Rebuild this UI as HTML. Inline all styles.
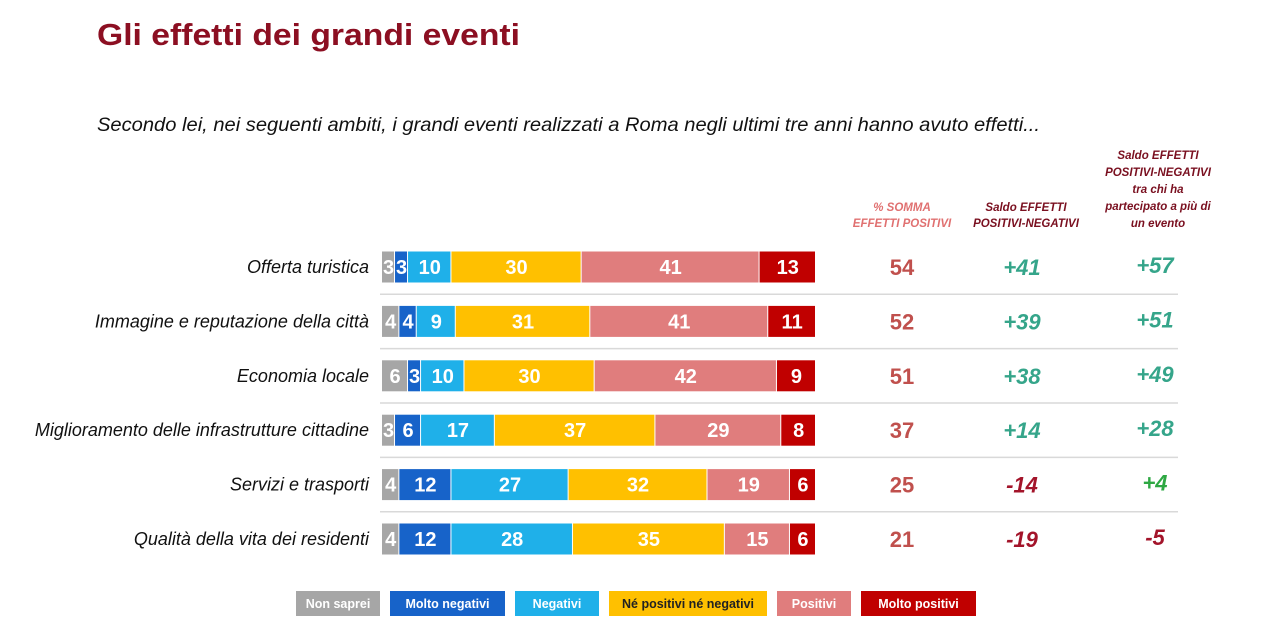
<!DOCTYPE html>
<html><head><meta charset="utf-8">
<style>
body{margin:0;background:#fff;width:1280px;height:631px;overflow:hidden;font-family:"Liberation Sans",sans-serif}
</style></head>
<body>
<svg id="chart" width="1280" height="631" xmlns="http://www.w3.org/2000/svg">
<text x="97" y="45" font-size="31" font-weight="bold" fill="#8c0f22" textLength="423" lengthAdjust="spacingAndGlyphs">Gli effetti dei grandi eventi</text>
<text x="97" y="131" font-size="19.5" font-style="italic" fill="#111" textLength="943" lengthAdjust="spacingAndGlyphs">Secondo lei, nei seguenti ambiti, i grandi eventi realizzati a Roma negli ultimi tre anni hanno avuto effetti...</text>
<g font-size="11.5" font-weight="bold" font-style="italic" fill="#e07070" text-anchor="middle">
<text x="902" y="211">% SOMMA</text><text x="902" y="227">EFFETTI POSITIVI</text></g>
<g font-size="11.5" font-weight="bold" font-style="italic" fill="#7a1020" text-anchor="middle">
<text x="1026" y="211">Saldo EFFETTI</text><text x="1026" y="227">POSITIVI-NEGATIVI</text></g>
<g font-size="11.5" font-weight="bold" font-style="italic" fill="#7a1020" text-anchor="middle">
<text x="1158" y="159">Saldo EFFETTI</text><text x="1158" y="176">POSITIVI-NEGATIVI</text><text x="1158" y="193">tra chi ha</text><text x="1158" y="210">partecipato a più di</text><text x="1158" y="227">un evento</text></g>
<g id="rows"></g>
<g id="legend"></g>
</svg>
<script>
const categories=["Offerta turistica","Immagine e reputazione della città","Economia locale","Miglioramento delle infrastrutture cittadine","Servizi e trasporti","Qualità della vita dei residenti"];
const nonSaprei=[3,4,6,3,4,4];
const moltoNegativi=[3,4,3,6,12,12];
const negativi=[10,9,10,17,27,28];
const neutri=[30,31,30,37,32,35];
const positivi=[41,41,42,29,19,15];
const moltoPositivi=[13,11,9,8,6,6];
const sommaPositivi=[54,52,51,37,25,21];
const saldo=[41,39,38,14,-14,-19];
const saldoPartecipanti=[57,51,49,28,4,-5];
const seriesNames=["Non saprei","Molto negativi","Negativi","Né positivi né negativi","Positivi","Molto positivi"];
const seriesColors=["#a6a6a6","#1763c9","#1fb0e9","#ffc000","#e07d7d","#c00000"];
const series=[nonSaprei,moltoNegativi,negativi,neutri,positivi,moltoPositivi];
const NS="http://www.w3.org/2000/svg";
const x0=382,xw=434,rowY0=267,rowStep=54.4,barH=31;
const xs=v=>v/100*xw;
const ys=i=>rowY0+i*rowStep;
function mk(tag,attrs,parent){const e=document.createElementNS(NS,tag);for(const k in attrs)e.setAttribute(k,attrs[k]);parent.appendChild(e);return e;}
const rows=document.getElementById('rows');
const fmt=v=>(v>0?"+":"")+v;
categories.forEach((c,i)=>{
  const y=ys(i);
  const g=mk('g',{},rows);
  
  
  const lab=mk('text',{x:369,y:y+6,'font-size':18,'font-style':'italic','text-anchor':'end',fill:'#111'},g);
  
  
  lab.textContent=c;
  let cx=x0;
  series.forEach((s,j)=>{
    const w=xs(s[i]);
    const r=mk('rect',{x:cx,y:y-barH/2,width:Math.max(w-1,0.5),height:barH,fill:seriesColors[j]},g);
    
    
    const t=mk('text',{x:cx+w/2,y:y+7,'font-size':20,'font-weight':'bold','text-anchor':'middle',fill:'#fff'},g);
    
    
    t.textContent=s[i];
    cx+=w;
  });
  const a=mk('text',{x:902,y:y+8,'font-size':22,'font-weight':'bold','text-anchor':'middle',fill:'#c0504d'},g);
  
  
  a.textContent=sommaPositivi[i];
  const b=mk('text',{x:1022,y:y+8,'font-size':22,'font-weight':'bold','font-style':'italic','text-anchor':'middle',fill:saldo[i]>=0?'#35a58a':'#a3142a'},g);
  
  
  b.textContent=fmt(saldo[i]);
  const d=mk('text',{x:1155,y:y+6,'font-size':22,'font-weight':'bold','font-style':'italic','text-anchor':'middle',fill:saldoPartecipanti[i]>=0?(i==4?'#2ea843':'#35a58a'):'#a3142a'},g);
  
  
  d.textContent=fmt(saldoPartecipanti[i]);
  if(i<categories.length-1){
    const l=mk('line',{x1:380,x2:1178,y1:y+rowStep/2,y2:y+rowStep/2,stroke:'#d9d9d9','stroke-width':1.5},g);
    
    
  }
});
const legend=document.getElementById('legend');


const legX=[296,390,515,609,777,861],legW=[84,115,84,158,74,115];
seriesNames.forEach((n,j)=>{
  const g=mk('g',{},legend);
  
  
  mk('rect',{x:legX[j],y:591,width:legW[j],height:25,fill:seriesColors[j]},g);
  const t=mk('text',{x:legX[j]+legW[j]/2,y:608,'font-size':12.5,'font-weight':'bold','text-anchor':'middle',fill:j==3?'#222':'#fff'},g);
  t.textContent=n;
});
</script>
</body></html>
